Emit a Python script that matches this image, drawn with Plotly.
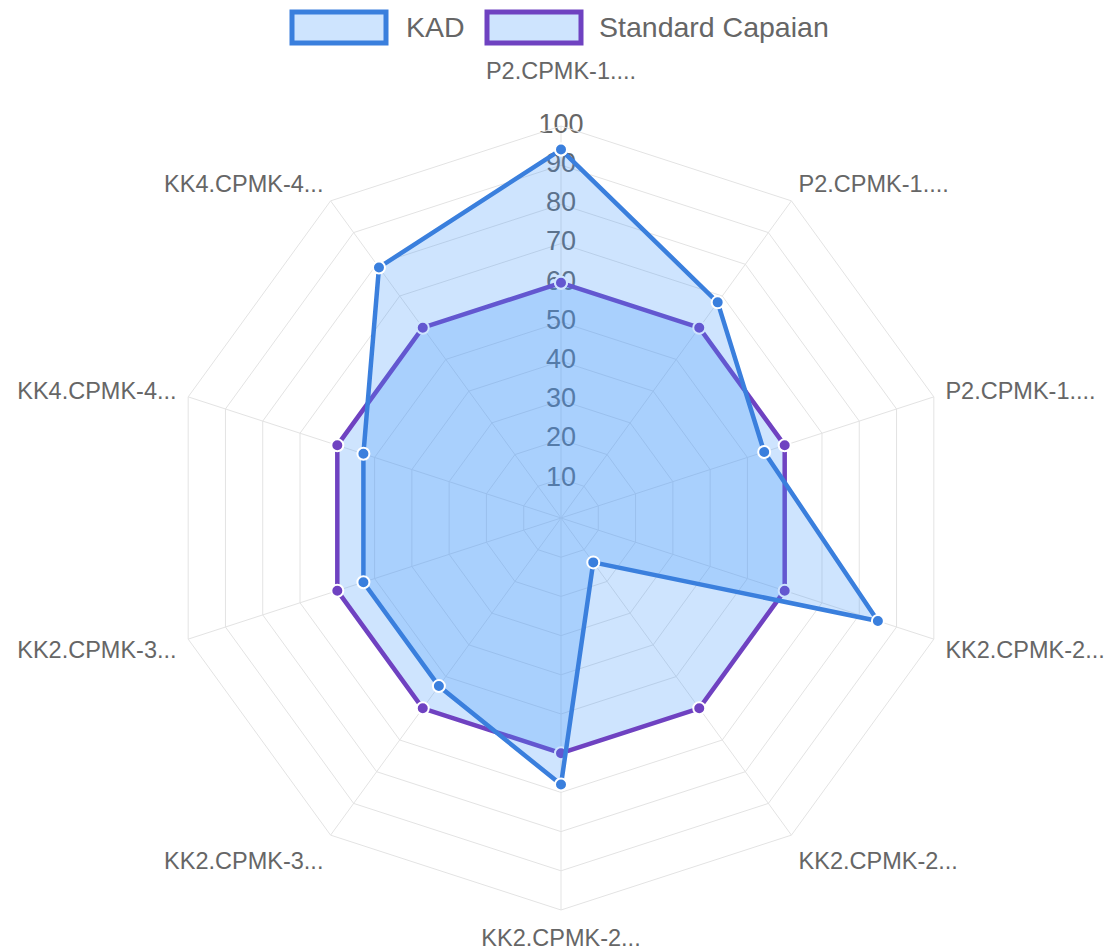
import plotly.graph_objects as go

# ---- data ----
categories = ["P2.CPMK-1....", "P2.CPMK-1....", "P2.CPMK-1....",
              "KK2.CPMK-2...", "KK2.CPMK-2...", "KK2.CPMK-2...",
              "KK2.CPMK-3...", "KK2.CPMK-3...",
              "KK4.CPMK-4...", "KK4.CPMK-4..."]
kad = [94, 68, 54.5, 85, 14, 68, 53, 53, 53, 79]
standard = [60, 60, 60, 60, 60, 60, 60, 60, 60, 60]
tick_values = [10, 20, 30, 40, 50, 60, 70, 80, 90, 100]
series_names = ["KAD", "Standard Capaian"]

# unique ids (labels are truncated duplicates)
ids = [f"{c}#{i}" for i, c in enumerate(categories)]
# top label sits higher in the original (above the "100" tick label)
tick_text = [categories[0] + "<br> "] + categories[1:]

FONT = "Liberation Sans, Arial, Helvetica, sans-serif"
GRID = "#e3e3e3"
KAD_LINE = "#3a7fdd"
STD_LINE = "#6f42c1"
FILL = "rgba(66,150,252,0.26)"

fig = go.Figure()

# radial tick labels (drawn beneath the data, like the original)
fig.add_trace(go.Scatterpolar(
    theta=[ids[0]] * len(tick_values), r=tick_values,
    text=[str(v) for v in tick_values], mode="text",
    textposition="middle center",
    textfont=dict(size=27, color="#666666", family=FONT),
    hoverinfo="skip", showlegend=False, cliponaxis=False,
))

def closed(vals):
    return list(vals) + [vals[0]]

fig.add_trace(go.Scatterpolar(
    theta=closed(ids), r=closed(standard), name=series_names[1],
    mode="lines+markers", fill="toself", fillcolor=FILL,
    line=dict(color=STD_LINE, width=4.5),
    marker=dict(size=12, color=STD_LINE, line=dict(color="white", width=2)),
    cliponaxis=False,
))
fig.add_trace(go.Scatterpolar(
    theta=closed(ids), r=closed(kad), name=series_names[0],
    mode="lines+markers", fill="toself", fillcolor=FILL,
    line=dict(color=KAD_LINE, width=4.5),
    marker=dict(size=12, color=KAD_LINE, line=dict(color="white", width=2)),
    cliponaxis=False,
))

W, H = 1110, 951

def px(x):
    return x / W

def py(y):
    return 1 - y / H

# custom legend (boxes + labels) at top centre
shapes = []
annotations = []
legend_items = [
    (series_names[0], KAD_LINE, 292, 386, 404),
    (series_names[1], STD_LINE, 487, 581, 597),
]
for name, col, x0, x1, tx in legend_items:
    shapes.append(dict(type="rect", xref="paper", yref="paper",
                       x0=px(x0), x1=px(x1), y0=py(43), y1=py(12),
                       line=dict(color=col, width=5),
                       fillcolor=FILL))
    annotations.append(dict(text=name, xref="paper", yref="paper",
                            x=px(tx), y=py(27), xanchor="left", yanchor="middle",
                            showarrow=False,
                            font=dict(size=28.5, color="#666666", family=FONT)))

cx, cy, R = 561, 518, 392
fig.update_layout(
    width=W, height=H, margin=dict(l=0, r=0, t=0, b=0),
    paper_bgcolor="white", plot_bgcolor="white",
    showlegend=False,
    font=dict(family=FONT, color="#666666"),
    shapes=shapes, annotations=annotations,
    polar=dict(
        domain=dict(x=[px(cx - R), px(cx + R)], y=[py(cy + R), py(cy - R)]),
        bgcolor="rgba(0,0,0,0)",
        gridshape="linear",
        radialaxis=dict(range=[0, 100], tickvals=tick_values,
                        showticklabels=False, showline=False, ticks="",
                        gridcolor=GRID, gridwidth=1),
        angularaxis=dict(type="category", rotation=90, direction="clockwise",
                         tickmode="array", tickvals=ids, ticktext=tick_text,
                         tickfont=dict(size=23.5, color="#666666", family=FONT),
                         gridcolor=GRID, linecolor=GRID, linewidth=1,
                         ticks="outside", ticklen=7,
                         tickcolor="rgba(0,0,0,0)"),
    ),
)

fig.write_html("out.html", config={"displayModeBar": False},
               post_script="document.body.style.margin='0';")
